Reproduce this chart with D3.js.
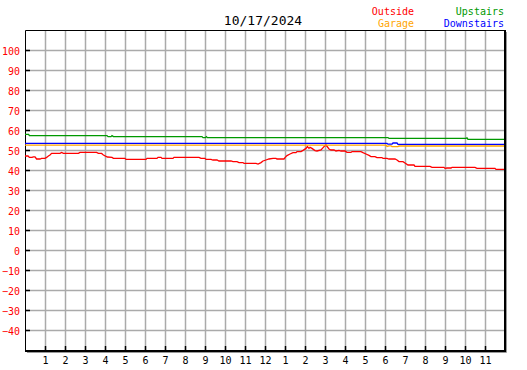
<!DOCTYPE html>
<html>
<head>
<meta charset="utf-8">
<script src="https://cdnjs.cloudflare.com/ajax/libs/d3/7.8.5/d3.min.js"></script>
<style>
	body { margin: 0; background: #fff; }
	svg text { font-family: "DejaVu Sans Mono", monospace; }
</style>
</head>
<body>
<div id="chart"></div>
<script>
// chart data (hour of day, temperature)
var title = '10/17/2024';
var yTicks = [-40, -30, -20, -10, 0, 10, 20, 30, 40, 50, 60, 70, 80, 90, 100];
var xTicks = [1, 2, 3, 4, 5, 6, 7, 8, 9, 10, 11, 12, 13, 14, 15, 16, 17, 18, 19, 20, 21, 22, 23];
var xTickLabels = ['1','2','3','4','5','6','7','8','9','10','11','12','1','2','3','4','5','6','7','8','9','10','11'];

var outside = [
	[0, 47.0], [0.15, 47.0], [0.22, 46.3], [0.35, 46.3], [0.42, 46.6], [0.5, 46.6], [0.58, 45.5], [0.75, 45.5],
	[0.83, 45.8], [1.0, 45.8], [1.08, 46.3], [1.17, 47.0], [1.25, 47.5], [1.33, 48.3], [1.75, 48.3], [1.83, 48.8],
	[1.92, 48.3], [2.67, 48.3], [2.75, 48.8], [3.58, 48.8], [3.67, 48.3], [3.83, 48.3], [3.92, 47.5], [4.12, 46.5],
	[4.35, 46.3], [4.42, 45.8], [5.0, 45.8], [5.05, 45.3], [6.05, 45.3], [6.1, 45.8], [6.6, 45.8], [6.65, 46.3],
	[6.8, 46.3], [6.85, 45.8], [7.4, 45.8], [7.45, 46.3], [8.7, 46.3], [8.8, 45.8], [9.0, 45.8], [9.05, 45.3],
	[9.3, 45.3], [9.4, 45.0], [9.6, 45.0], [9.7, 44.5], [10.3, 44.5], [10.4, 44.2], [10.6, 44.2], [10.7, 43.7],
	[10.9, 43.7], [10.95, 43.3], [11.55, 43.3], [11.65, 43.0], [11.8, 43.7], [11.9, 44.5], [12.05, 45.0], [12.2, 45.5],
	[12.4, 45.8], [12.55, 45.8], [12.6, 45.5], [12.95, 45.5], [13.0, 46.2], [13.1, 47.2], [13.25, 48.0], [13.4, 48.7],
	[13.55, 48.7], [13.6, 49.2], [13.8, 49.2], [13.9, 49.8], [14.05, 50.8], [14.12, 51.7], [14.2, 50.8], [14.25, 51.3],
	[14.35, 50.8], [14.5, 49.7], [14.6, 49.5], [14.8, 50.0], [14.95, 51.7], [15.05, 52.5], [15.2, 50.5], [15.3, 50.0],
	[15.45, 50.0], [15.55, 49.5], [15.7, 49.8], [15.8, 49.5], [16.0, 49.5], [16.1, 48.8], [16.3, 48.8], [16.35, 49.2],
	[16.8, 49.2], [16.9, 48.7], [17.05, 48.0], [17.2, 47.3], [17.3, 46.7], [17.5, 46.7], [17.6, 46.2], [17.85, 46.2],
	[17.9, 45.8], [18.1, 45.8], [18.2, 45.5], [18.5, 45.5], [18.6, 45.0], [18.7, 44.2], [18.9, 44.2], [19.0, 43.5],
	[19.15, 42.5], [19.45, 42.5], [19.5, 41.8], [20.25, 41.8], [20.35, 41.3], [20.95, 41.3], [21.0, 40.8], [21.1, 41.0],
	[21.3, 41.0], [21.35, 41.3], [22.5, 41.3], [22.6, 40.8], [23.5, 40.8], [23.55, 40.3], [23.95, 40.3]
];
var garage = [
	[0, 52.4], [18.05, 52.4], [18.1, 51.8], [18.2, 52.1], [18.3, 52.1], [18.35, 51.7], [18.65, 51.7], [18.7, 52.0], [23.95, 52.0]
];
var upstairs = [
	[0, 57.8], [0.18, 57.8], [0.22, 57.2], [4.1, 57.2], [4.15, 56.7], [4.3, 56.7], [4.35, 57.2], [4.42, 56.7],
	[8.85, 56.7], [8.9, 56.2], [9.02, 56.2], [9.07, 56.7], [9.12, 56.2], [18.15, 56.2], [18.2, 55.8], [22.05, 55.8],
	[22.1, 56.1], [22.15, 55.3], [23.95, 55.3]
];
var downstairs = [
	[0, 53.3], [18.1, 53.3], [18.15, 52.9], [18.35, 52.9], [18.4, 53.5], [18.6, 53.5], [18.65, 52.8], [23.95, 52.8]
];

var series = [
	{ name: 'Outside', color: '#ff0000', values: outside },
	{ name: 'Garage', color: '#ffa500', values: garage },
	{ name: 'Upstairs', color: '#009900', values: upstairs },
	{ name: 'Downstairs', color: '#0000ff', values: downstairs }
];

var width = 527, height = 370;
var plot = { left: 25, top: 30, width: 480, height: 320 };

var x = d3.scaleLinear().domain([0, 24]).range([0, plot.width]);
var y = d3.scaleLinear().domain([-50, 110]).range([plot.height, 0]);

var svg = d3.select('#chart').append('svg')
	.attr('width', width)
	.attr('height', height);

// title
svg.append('text')
	.attr('x', 263)
	.attr('y', 25)
	.attr('font-size', '13px')
	.attr('text-anchor', 'middle')
	.attr('fill', '#000')
	.text(title);

// legend, two columns
var legendPos = [[414, 15], [414, 27], [504, 15], [504, 27]];
svg.append('g').selectAll('text')
	.data(series)
	.enter()
		.append('text')
			.attr('x', function(d, i){ return legendPos[i][0]; })
			.attr('y', function(d, i){ return legendPos[i][1]; })
			.attr('font-size', '10px')
			.attr('text-anchor', 'end')
			.attr('fill', function(d){ return d.color; })
			.text(function(d){ return d.name; });

var g = svg.append('g')
	.attr('transform', 'translate(' + plot.left + ',' + plot.top + ')');

// grid
g.append('g')
	.attr('class', 'grid')
	.call(d3.axisLeft(y).tickValues(yTicks).tickSize(-plot.width).tickFormat(''))
	.call(function(s){ s.select('.domain').remove(); });
g.append('g')
	.attr('class', 'grid')
	.attr('transform', 'translate(0,' + plot.height + ')')
	.call(d3.axisBottom(x).tickValues(xTicks).tickSize(-plot.height).tickFormat(''))
	.call(function(s){ s.select('.domain').remove(); });
g.selectAll('.grid line')
	.attr('stroke', '#aaaaaa')
	.attr('stroke-width', 1.5);

// frame with shadow on the right and bottom
g.append('path')
	.attr('d', 'M2,' + (plot.height + 2.5) + 'H' + (plot.width + 1.5) + 'V2')
	.attr('fill', 'none')
	.attr('stroke', '#999')
	.attr('stroke-width', 1);
g.append('path')
	.attr('d', 'M0.5,' + plot.height + 'V0.5H' + plot.width)
	.attr('fill', 'none')
	.attr('stroke', '#000')
	.attr('stroke-width', 1);
g.append('path')
	.attr('d', 'M0,' + (plot.height + 1) + 'H' + plot.width + 'V0')
	.attr('fill', 'none')
	.attr('stroke', '#000')
	.attr('stroke-width', 2);

// axes
var yAxis = g.append('g')
	.call(d3.axisLeft(y).tickValues(yTicks).tickSize(-5).tickPadding(5));
yAxis.select('.domain').remove();
yAxis.selectAll('line').attr('stroke', '#000').attr('stroke-width', 1.5);
yAxis.selectAll('text')
	.attr('fill', '#ff0000')
	.attr('font-size', '10px')
	.attr('dy', '0.4em');

var xAxis = g.append('g')
	.attr('transform', 'translate(0,' + plot.height + ')')
	.call(d3.axisBottom(x).tickValues(xTicks).tickSize(-4).tickPadding(7)
		.tickFormat(function(d, i){ return xTickLabels[i]; }));
xAxis.select('.domain').remove();
xAxis.selectAll('line').attr('stroke', '#000').attr('stroke-width', 1.5);
xAxis.selectAll('text')
	.attr('fill', '#000')
	.attr('font-size', '10px');

// temperature lines
var line = d3.line()
	.x(function(d){ return x(d[0]); })
	.y(function(d){ return y(d[1]); });

g.append('g').selectAll('path')
	.data(series)
	.enter()
		.append('path')
			.attr('d', function(d){ return line(d.values); })
			.attr('fill', 'none')
			.attr('stroke', function(d){ return d.color; })
			.attr('stroke-width', 1.3);
</script>
</body>
</html>
